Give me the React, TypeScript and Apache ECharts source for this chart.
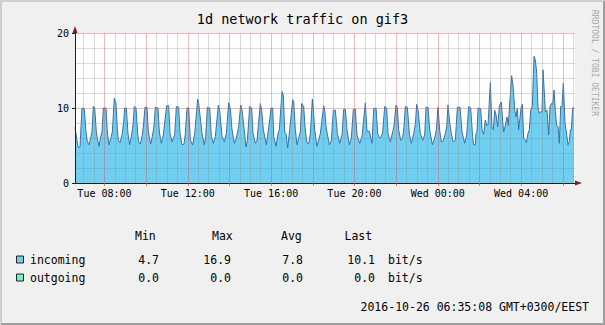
import React, { useEffect, useRef } from "react";
import * as echarts from "echarts";

// Start of the graph: Tue 06:35:08, in minutes since Tue 00:00
const START_MIN = 6 * 60 + 35 + 8 / 60;
const SPAN_MIN = 24 * 60;

// incoming traffic: minutes after start, bit/s
const incomingMinutes = [
  0, 4.8, 8.6, 14.4, 20.2, 26.9, 31.7, 35.5, 40.3, 46.1,
  49, 52.8, 56.6, 61.4, 65.3, 69.1, 74, 77.8, 81.6, 89.3,
  93.1, 97.9, 104.6, 107.5, 113.3, 118.1, 122, 124.8, 129.6, 135.4,
  140.2, 143, 147.8, 152.6, 157.4, 162.2, 167, 170.9, 175.7, 180.5,
  183.4, 188.2, 193.9, 197.8, 201.6, 207.4, 211.2, 217.9, 222.7, 227.5,
  231.4, 239, 242.9, 248.6, 254.4, 259.2, 264, 269.8, 273.6, 279.4,
  287.1, 291.9, 298.6, 302.4, 308.2, 314, 317.8, 322.6, 327.4, 332.2,
  338.9, 344.7, 353.3, 356.2, 362, 365.8, 372.5, 376.4, 381.2, 387.9,
  392.7, 398.4, 404.2, 412.8, 416.7, 423.4, 430.1, 435.9, 442.6, 447.4,
  452.2, 458.9, 464.7, 471.4, 477.2, 481, 484.8, 492.5, 496.4, 503.1,
  508.8, 512.7, 519.4, 524.2, 533.8, 537.6, 542.4, 551, 559.7, 564.5, 569.3,
  572.2, 579, 584.7, 588.5, 596.2, 600, 603.9, 607.7, 612.5, 618.3,
  626.9, 629.8, 634.6, 639.4, 645.2, 649, 652.8, 658.6, 662.4, 667.2,
  673, 677.8, 683.6, 686.4, 690.3, 697, 706.6, 716.2, 719.1, 722.9,
  732.5, 738.3, 744, 749.8, 755.6, 762.3, 769, 773.8, 778.6, 783.4,
  790.1, 795.9, 801.6, 807.4, 812.2, 819.9, 826.6, 836.2, 841, 847.7, 855.4,
  860.2, 867, 871.7, 876.5, 882.3, 886.1, 891.9, 897.6, 901.5, 908.2,
  914.9, 918.8, 924.5, 928.4, 932.2, 938, 943.7, 947.6, 951.4, 957.2,
  962.9, 968.7, 975.4, 980.2, 984, 987.9, 994.6, 1001.3, 1007.1, 1010.9,
  1016.7, 1021.5, 1029.2, 1035.9, 1040.7, 1045.5, 1050.3, 1055, 1060, 1066.5,
  1070.5, 1074.3, 1079.1, 1083.9, 1088.7, 1095.4, 1101.2, 1108.8, 1114.6, 1122.3,
  1128.1, 1133.8, 1139.6, 1145,
  1148.2, 1153, 1154.9, 1157.8, 1160.7, 1168.4, 1172.2, 1177, 1181.8, 1185.6,
  1189.5, 1196.2, 1198.1, 1201, 1204.8, 1208.7, 1212.5, 1217.3, 1222.1, 1227.9,
  1231.7, 1234.6, 1239.4, 1244.2, 1248, 1251.9, 1257.6, 1262.4, 1266.3, 1270.1,
  1274, 1277.8, 1281.6, 1284.5, 1288.4, 1292.2, 1297, 1299.9, 1304.7, 1308.5,
  1312.4, 1317.2, 1322, 1325.8, 1329.6, 1333.5, 1337.3, 1341.2, 1345, 1347.9,
  1351.7, 1354.6, 1359.4, 1364.2, 1368, 1371.9, 1375.7, 1379.6, 1383.4, 1387.2,
  1391.1, 1394.9, 1398.8, 1402.6, 1406.4, 1411.2, 1415.1, 1419.9, 1423.7, 1426.6,
  1429.4, 1433.3, 1437.1,
];
const incomingValues = [
  7.4, 6.0, 4.8, 4.8, 10.0, 9.9, 6.8, 5.5, 5.1, 6.2,
  6.8, 10.2, 10.1, 6.8, 5.7, 4.9, 6.2, 6.8, 10.0, 10.0,
  6.8, 5.1, 6.2, 6.8, 11.3, 10.6, 7.1, 5.7, 5.4, 6.4,
  8.2, 10.0, 10.0, 6.6, 5.1, 6.2, 7.7, 10.2, 10.0, 6.6,
  5.5, 5.2, 6.4, 8.0, 10.1, 10.1, 6.8, 5.2, 6.2, 7.6,
  10.1, 10.0, 6.8, 5.3, 6.4, 8.4, 10.3, 10.3, 6.6, 5.5,
  6.4, 10.2, 10.1, 6.6, 5.1, 5.2, 6.6, 10.0, 10.0, 5.7,
  5.1, 6.6, 11.2, 10.6, 8.2, 6.6, 5.1, 6.2, 10.1, 10.0,
  6.2, 5.3, 6.2, 10.4, 9.7, 6.2, 5.5, 6.6, 10.7, 9.9,
  7.1, 5.3, 6.0, 7.5, 10.4, 9.7, 8.2, 4.8, 5.7, 10.2,
  10.0, 6.6, 5.3, 5.7, 10.6, 9.7, 7.1, 5.1, 8.0, 10.0, 10.0,
  6.2, 4.9, 6.6, 7.1, 12.2, 11.7, 6.8, 6.6, 4.7, 7.1,
  11.1, 10.9, 7.1, 5.1, 6.2, 6.8, 10.6, 10.2, 7.5, 5.5,
  5.2, 6.6, 11.2, 9.9, 7.1, 4.9, 6.6, 10.3, 9.7, 7.5,
  5.1, 5.7, 9.7, 9.7, 6.6, 5.3, 6.4, 9.8, 9.8, 7.1,
  5.1, 6.0, 9.8, 9.8, 6.4, 5.3, 6.2, 10.7, 6.9, 6.9, 5.3,
  9.9, 10.0, 6.6, 6.0, 6.2, 6.8, 10.2, 10.0, 6.6, 5.5,
  6.8, 7.6, 10.4, 10.0, 7.1, 5.7, 6.0, 7.5, 10.2, 10.1,
  6.6, 5.3, 6.6, 7.8, 10.5, 9.7, 6.6, 5.7, 6.4, 10.1,
  10.1, 7.1, 5.1, 6.0, 7.1, 10.1, 7.0, 5.5, 5.6, 6.6,
  7.5, 10.4, 8.0, 6.6, 5.5, 5.7, 10.1, 10.1, 6.8, 5.3,
  6.4, 10.2, 10.0, 6.2,
  5.1, 5.1, 6.6, 6.8, 10.0, 9.9, 7.1, 6.5, 8.4, 7.7,
  7.7, 13.4, 13.4, 7.3, 7.1, 9.7, 9.1, 7.5, 10.2, 10.8,
  8.2, 6.8, 7.7, 8.8, 7.7, 10.6, 14.3, 12.6, 9.7, 8.8,
  10.0, 7.1, 8.7, 10.0, 10.5, 6.0, 5.7, 5.4, 6.6, 7.1,
  9.7, 10.3, 16.9, 16.4, 14.8, 10.0, 9.3, 9.5, 9.5, 15.1,
  12.0, 9.5, 9.7, 6.4, 10.2, 10.6, 10.5, 12.4, 9.5, 7.7,
  7.5, 5.3, 10.2, 10.2, 13.3, 8.0, 6.8, 5.1, 5.5, 7.1,
  7.1, 10.0, 10.1,
];

// outgoing traffic stays at zero
const outgoingMinutes = [0, 1437.1];
const outgoingValues = [0, 0];

// axis / ticks
const yMin = 0;
const yMax = 20;
const yMajorStep = 10;
const yMinorStep = 2;
const xLabelMinutes = [480, 720, 960, 1200, 1440, 1680];
const xLabelTexts = ["Tue 08:00", "Tue 12:00", "Tue 16:00", "Tue 20:00", "Wed 00:00", "Wed 04:00"];
const xMajorStepMin = 120;
const xMinorStepMin = 30;

// legend table
const legendHeaders = ["Min", "Max", "Avg", "Last"];
const seriesNames = ["incoming", "outgoing"];
const incomingStats = [4.7, 16.9, 7.8, 10.1];
const outgoingStats = [0.0, 0.0, 0.0, 0.0];
const unitText = "bit/s";
const titleText = "1d network traffic on gif3";
const footerText = "2016-10-26 06:35:08 GMT+0300/EEST";
const watermarkText = "RRDTOOL / TOBI OETIKER";

const MONO = '"DejaVu Sans Mono", "Liberation Mono", monospace';
const AREA_IN = "#70cff0";
const LINE_IN = "#3c6ea6";
const AREA_OUT = "#72f2c4";
const MINOR_GRID = "rgba(140,140,140,0.32)";
const MAJOR_GRID = "rgba(222,79,79,0.40)";
const AXIS_COLOR = "#1f1f1f";
const ARROW_COLOR = "#801f1f";

function txt(x: number, y: number, text: string, size: number, align: string, extra: any = {}) {
  return {
    type: "text",
    x,
    y,
    silent: true,
    ...extra,
    style: {
      text,
      fill: extra.fill || "#000",
      font: `${size}px ${MONO}`,
      fontSize: size,
      fontFamily: MONO,
      align,
      textAlign: align,
      verticalAlign: "middle",
      textVerticalAlign: "middle",
    },
  };
}

export default function App() {
  const ref = useRef<HTMLDivElement | null>(null);

  useEffect(() => {
    if (!ref.current) return;
    const chart = echarts.init(ref.current, undefined, { renderer: "svg" });

    const xStart = START_MIN;
    const xEnd = START_MIN + SPAN_MIN;

    // grid lines (drawn above the area, as rrdtool does)
    const gridLines: any[] = [];
    for (let m = Math.ceil(xStart / xMinorStepMin) * xMinorStepMin; m <= xEnd; m += xMinorStepMin) {
      const major = m % xMajorStepMin === 0;
      gridLines.push({ xAxis: m, lineStyle: { color: major ? MAJOR_GRID : MINOR_GRID, width: 1, type: "solid" } });
    }
    for (let v = yMin + yMinorStep; v <= yMax; v += yMinorStep) {
      const major = v % yMajorStep === 0;
      gridLines.push({ yAxis: v, lineStyle: { color: major ? MAJOR_GRID : MINOR_GRID, width: 1, type: "solid" } });
    }
    const majorTicks: number[] = [];
    for (let m = Math.ceil(xStart / xMajorStepMin) * xMajorStepMin; m <= xEnd; m += xMajorStepMin) majorTicks.push(m);

    const incomingData = incomingMinutes.map((t, i) => [START_MIN + t, incomingValues[i]]);
    const outgoingData = outgoingMinutes.map((t, i) => [START_MIN + t, outgoingValues[i]]);

    const graphics: any[] = [];
    // 3D frame
    graphics.push({
      type: "polygon",
      silent: true,
      shape: { points: [[0, 0], [605, 0], [603, 2], [2, 2], [2, 323], [0, 325]] },
      style: { fill: "#cfcfcf" },
    });
    graphics.push({
      type: "polygon",
      silent: true,
      shape: { points: [[605, 0], [605, 325], [0, 325], [2, 323], [603, 323], [603, 2]] },
      style: { fill: "#9e9e9e" },
    });
    graphics.push(txt(302.5, 18.5, titleText, 13.5, "center"));
    graphics.push(
      txt(594.5, 63, watermarkText, 8, "center", { rotation: -Math.PI / 2, fill: "#a8a8a8" })
    );
    // legend table
    const headerX = [135, 212, 281, 344.5];
    legendHeaders.forEach((h, i) => graphics.push(txt(headerX[i], 235.5, h, 11.5, "left")));
    const valueRight = [159, 231, 303, 375];
    const rowsY = [259.5, 277.5];
    const stats = [incomingStats, outgoingStats];
    const colors = [AREA_IN, AREA_OUT];
    seriesNames.forEach((name, r) => {
      graphics.push({
        type: "rect",
        silent: true,
        shape: { x: 16.5, y: rowsY[r] - 3.5, width: 7, height: 7 },
        style: { fill: colors[r], stroke: "#222", lineWidth: 1 },
      });
      graphics.push(txt(30, rowsY[r], name, 11.5, "left"));
      stats[r].forEach((v, i) => graphics.push(txt(valueRight[i], rowsY[r], v.toFixed(1), 11.5, "right")));
      graphics.push(txt(388, rowsY[r], unitText, 11.5, "left"));
    });
    graphics.push(txt(589, 306.5, footerText, 11.5, "right"));

    const option: any = {
      animation: false,
      backgroundColor: "#f0f0f0",
      grid: {
        left: 75,
        top: 33,
        width: 500,
        height: 150,
        show: true,
        backgroundColor: "#ffffff",
        borderWidth: 0,
      },
      xAxis: {
        type: "value",
        min: xStart,
        max: xEnd,
        z: 10,
        splitLine: { show: false },
        axisLine: { show: true, onZero: false, lineStyle: { color: AXIS_COLOR, width: 1 } },
        axisTick: {
          show: true,
          customValues: majorTicks,
          length: 3,
          lineStyle: { color: "rgba(222,79,79,0.7)" },
        },
        axisLabel: {
          show: true,
          customValues: xLabelMinutes,
          margin: 5,
          color: "#000",
          fontSize: 10,
          fontFamily: MONO,
          formatter: (val: number) => {
            const i = xLabelMinutes.findIndex((m) => Math.abs(m - val) < 0.01);
            return i >= 0 ? xLabelTexts[i] : "";
          },
        },
      },
      yAxis: {
        type: "value",
        min: yMin,
        max: yMax,
        interval: yMajorStep,
        z: 10,
        splitLine: { show: false },
        axisLine: { show: true, lineStyle: { color: AXIS_COLOR, width: 1 } },
        axisTick: { show: true, length: 3, lineStyle: { color: AXIS_COLOR } },
        axisLabel: { margin: 6, color: "#000", fontSize: 10, fontFamily: MONO },
      },
      series: [
        {
          name: "outgoing",
          type: "line",
          data: outgoingData,
          showSymbol: false,
          symbol: "none",
          lineStyle: { width: 0 },
          areaStyle: { color: AREA_OUT, opacity: 1 },
          z: 2,
        },
        {
          name: "incoming",
          type: "line",
          data: incomingData,
          showSymbol: false,
          symbol: "none",
          lineStyle: { color: LINE_IN, width: 1 },
          areaStyle: { color: AREA_IN, opacity: 1 },
          z: 3,
        },
        {
          name: "grid",
          type: "line",
          data: [[xStart, 0]],
          showSymbol: false,
          symbol: "none",
          lineStyle: { width: 0, opacity: 0 },
          z: 5,
          silent: true,
          markLine: {
            silent: true,
            symbol: ["none", "none"],
            label: { show: false },
            animation: false,
            data: gridLines,
          },
          markPoint: {
            silent: true,
            animation: false,
            label: { show: false },
            data: [
              {
                coord: [xEnd, 0],
                symbol: "triangle",
                symbolSize: [5, 7],
                symbolRotate: -90,
                symbolOffset: [3.5, 0],
                itemStyle: { color: ARROW_COLOR },
              },
              {
                coord: [xStart, yMax],
                symbol: "triangle",
                symbolSize: [5, 7],
                symbolOffset: [0, -3.5],
                itemStyle: { color: ARROW_COLOR },
              },
            ],
          },
        },
      ],
      graphic: { elements: graphics },
    };

    chart.setOption(option);
    return () => chart.dispose();
  }, []);

  return (
    <div
      ref={ref}
      style={{ position: "absolute", left: 0, top: 0, width: 605, height: 325 }}
    />
  );
}
